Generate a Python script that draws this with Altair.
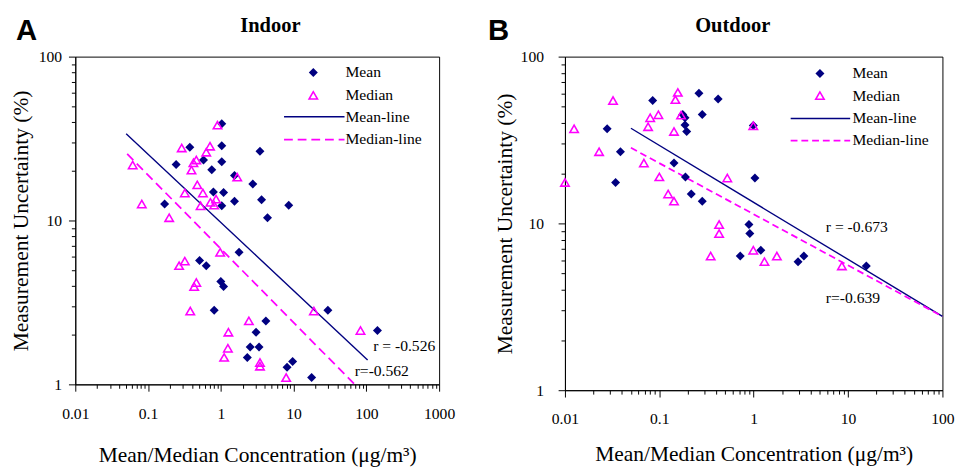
import altair as alt
import pandas as pd

# ---------------- data ----------------
# Panel A (Indoor)
a_mean_x = [1.03, 0.375, 1.03, 3.45, 0.243, 0.578, 1.03, 0.75, 1.54, 2.75, 0.79, 1.09, 1.54, 3.63,
            0.169, 1.03, 8.57, 4.38, 1.78, 0.51, 0.63, 1.0, 1.09, 0.81, 29.6, 4.16, 142, 3.05,
            2.53, 3.35, 2.31, 9.7, 8.13, 17.7]
a_mean_y = [39, 28, 28.6, 26.5, 22, 23.4, 22.8, 20.4, 18.8, 16.7, 14.9, 14.8, 13.1, 13.4,
            12.6, 12.3, 12.4, 10.4, 6.4, 5.7, 5.3, 4.24, 3.95, 2.83, 2.83, 2.44, 2.13, 2.08,
            1.69, 1.69, 1.46, 1.38, 1.27, 1.1]
a_med_x = [0.90, 0.29, 0.71, 0.63, 0.46, 0.42, 0.0615, 0.395, 1.68, 0.475, 0.32, 0.567, 0.86, 0.72,
           0.81, 0.527, 0.082, 0.195, 0.98, 0.32, 0.267, 0.46, 0.43, 0.38, 19, 2.43, 83, 1.27,
           1.25, 1.11, 3.45, 3.45, 7.9]
a_med_y = [38.2, 27.7, 28.4, 26.1, 23.4, 22.5, 21.8, 20.3, 18.4, 16.5, 14.7, 14.7, 13.5, 12.9,
           12.4, 12.3, 12.6, 10.4, 6.4, 5.65, 5.3, 4.18, 3.95, 2.8, 2.8, 2.44, 2.13, 2.08,
           1.66, 1.46, 1.36, 1.29, 1.1]
a_meanline_x = [0.05, 104]
a_meanline_y = [33.8, 1.41]
a_medline_x = [0.0516, 69]
a_medline_y = [25.5, 1.0]
a_r_text = ["r = -0.526", "r=-0.562"]
a_r_x = [124, 69]
a_r_y = [1.71, 1.21]

# Panel B (Outdoor)
b_mean_x = [0.263, 0.085, 0.42, 0.177, 0.285, 0.187, 0.187, 0.195, 0.99, 0.028, 0.0387, 0.0344,
            0.143, 0.189, 1.03, 0.218, 0.285, 0.89, 0.91, 1.19, 0.72, 2.95, 3.4, 15.6]
b_mean_y = [60.4, 54.5, 55.8, 45, 45, 43, 38.9, 35.6, 38.6, 36.9, 26.9, 17.6,
            23, 19, 18.7, 15, 13.6, 9.84, 8.69, 6.9, 6.37, 5.9, 6.37, 5.56]
b_med_x = [0.157, 0.148, 0.0323, 0.17, 0.0977, 0.08, 0.076, 0.143, 0.99, 0.0125, 0.023, 0.01,
           0.0686, 0.1, 0.525, 0.124, 0.143, 0.43, 0.43, 0.99, 0.35, 1.3, 1.76, 8.6]
b_med_y = [61, 55.2, 54.5, 44.6, 44.8, 43, 38, 35.6, 38.5, 36.9, 26.9, 17.6,
           23, 19, 18.7, 15, 13.6, 9.84, 8.69, 6.9, 6.37, 5.9, 6.37, 5.56]
b_meanline_x = [0.05, 100]
b_meanline_y = [37.2, 2.77]
b_medline_x = [0.05, 100]
b_medline_y = [28.4, 2.77]
b_r_text = ["r = -0.673", "r=-0.639"]
b_r_x = [5.81, 5.81]
b_r_y = [9.52, 3.56]

legend_labels = ["Mean", "Median", "Mean-line", "Median-line"]

NAVY = "#000080"
MAG = "#ff00ff"
SERIF = "Liberation Serif"

MAJOR = "abs(log(datum.value)/LN10 - round(log(datum.value)/LN10)) < 0.001"


def log_values(lo_exp, hi_exp):
    vals = []
    for d in range(lo_exp, hi_exp):
        for m in range(1, 10):
            vals.append(float(f"{m}e{d}"))
    vals.append(float(f"1e{hi_exp}"))
    return vals


def make_axis(values, title, label_pad, title_pad, orient):
    return alt.Axis(
        values=values,
        title=title,
        grid=False,
        labelExpr=f"({MAJOR}) ? format(datum.value, '~g') : ''",
        labelFlush=False,
        labelOverlap=False,
        labelPadding=label_pad,
        titlePadding=title_pad,
        labelFont=SERIF, labelFontSize=16, labelColor="black",
        titleFont=SERIF, titleFontSize=22, titleFontWeight="normal", titleColor="black",
        domainColor="black", tickColor="black", domainWidth=1, tickWidth=1,
        tickSize={"condition": {"test": MAJOR, "value": 7}, "value": 4},
        orient=orient,
    )


def panel(mx, my, dx_, dy_, mlx, mly, dlx, dly, rt, rx, ry, xexp, w, h,
          heading, letter, leg, xlab_pad, xtitle_pad, ylab_pad, ytitle_pad, dash):
    xscale = alt.Scale(type="log", domain=[10.0 ** xexp[0], 10.0 ** xexp[1]], nice=False)
    yscale = alt.Scale(type="log", domain=[1, 100], nice=False)
    xaxis = make_axis(log_values(xexp[0], xexp[1]), "Mean/Median Concentration (μg/m³)",
                      xlab_pad, xtitle_pad, "bottom")
    yaxis = make_axis(log_values(0, 2), "Measurement Uncertainty (%)", ylab_pad, ytitle_pad, "left")

    X = lambda: alt.X("x:Q", scale=xscale, axis=xaxis)
    Y = lambda: alt.Y("y:Q", scale=yscale, axis=yaxis)

    df_mean = pd.DataFrame({"x": mx, "y": my})
    df_med = pd.DataFrame({"x": dx_, "y": dy_})
    df_ml = pd.DataFrame({"x": mlx, "y": mly})
    df_dl = pd.DataFrame({"x": dlx, "y": dly})
    df_r = pd.DataFrame({"x": rx, "y": ry, "t": rt})

    mean_pts = alt.Chart(df_mean).mark_point(shape="diamond", filled=True, color=NAVY,
                                             size=85, opacity=1).encode(x=X(), y=Y())
    med_pts = alt.Chart(df_med).mark_point(shape="triangle-up", filled=False, color=MAG,
                                           size=75, strokeWidth=1.6, opacity=1).encode(x=X(), y=Y())
    mean_line = alt.Chart(df_ml).mark_line(color=NAVY, strokeWidth=1.4).encode(x=X(), y=Y())
    med_line = alt.Chart(df_dl).mark_line(color=MAG, strokeWidth=1.8, strokeDash=dash).encode(x=X(), y=Y())
    rtext = alt.Chart(df_r).mark_text(align="left", baseline="middle", font=SERIF,
                                      fontSize=16, color="black").encode(x=X(), y=Y(), text="t:N")

    # legend (drawn inside the plot, top-right)
    sx, tx, ys, lx0, lx1 = leg
    one = pd.DataFrame({"k": [0]})
    legend_layers = [
        alt.Chart(one).mark_point(shape="diamond", filled=True, color=NAVY, size=85, opacity=1)
        .encode(x=alt.value(sx), y=alt.value(ys[0])),
        alt.Chart(one).mark_point(shape="triangle-up", filled=False, color=MAG, size=75,
                                  strokeWidth=1.6, opacity=1)
        .encode(x=alt.value(sx), y=alt.value(ys[1])),
        alt.Chart(one).mark_rule(color=NAVY, strokeWidth=1.4)
        .encode(x=alt.value(lx0), x2=alt.value(lx1), y=alt.value(ys[2])),
        alt.Chart(one).mark_rule(color=MAG, strokeWidth=1.8, strokeDash=dash)
        .encode(x=alt.value(lx0), x2=alt.value(lx1), y=alt.value(ys[3])),
    ]
    for lab, yy in zip(legend_labels, ys):
        legend_layers.append(
            alt.Chart(one).mark_text(align="left", baseline="middle", font=SERIF, fontSize=16,
                                     color="black", text=lab)
            .encode(x=alt.value(tx), y=alt.value(yy))
        )
    # panel letter and heading
    ltxt, lxp, lyp, hxp, hyp = letter
    letter_mark = alt.Chart(one).mark_text(align="center", baseline="middle", font="Liberation Sans",
                                           fontSize=30, fontWeight="bold", color="black",
                                           text=ltxt).encode(x=alt.value(lxp), y=alt.value(lyp))
    head_mark = alt.Chart(one).mark_text(align="center", baseline="middle", font=SERIF,
                                         fontSize=21, fontWeight="bold", color="black",
                                         text=heading).encode(x=alt.value(hxp), y=alt.value(hyp))

    return alt.layer(mean_line, med_line, mean_pts, med_pts, rtext, *legend_layers,
                     letter_mark, head_mark).properties(width=w, height=h)


pa = panel(a_mean_x, a_mean_y, a_med_x, a_med_y, a_meanline_x, a_meanline_y, a_medline_x, a_medline_y,
           a_r_text, a_r_x, a_r_y, (-2, 3), 373, 336, "Indoor", ("A", -50, -26.5, 200, -31),
           (244, 277, [16.3, 39.7, 61.7, 85], 214, 276), 15, 24, 7, 6, [9, 5])
pb = panel(b_mean_x, b_mean_y, b_med_x, b_med_y, b_meanline_x, b_meanline_y, b_medline_x, b_medline_y,
           b_r_text, b_r_x, b_r_y, (-2, 2), 387, 342, "Outdoor", ("B", -68, -26.5, 172, -31),
           (261.4, 294.7, [17.4, 40, 63.4, 86], 231.4, 292.4), 14, 18, 15, 4, [7, 4])

chart = alt.hconcat(pa, pb, spacing=32).properties(
    padding={"left": 1, "top": 1, "right": 5, "bottom": 0},
    background="white",
).configure_view(stroke="black", strokeWidth=1)

chart.save("out.html", embed_options={"renderer": "svg", "actions": False})
